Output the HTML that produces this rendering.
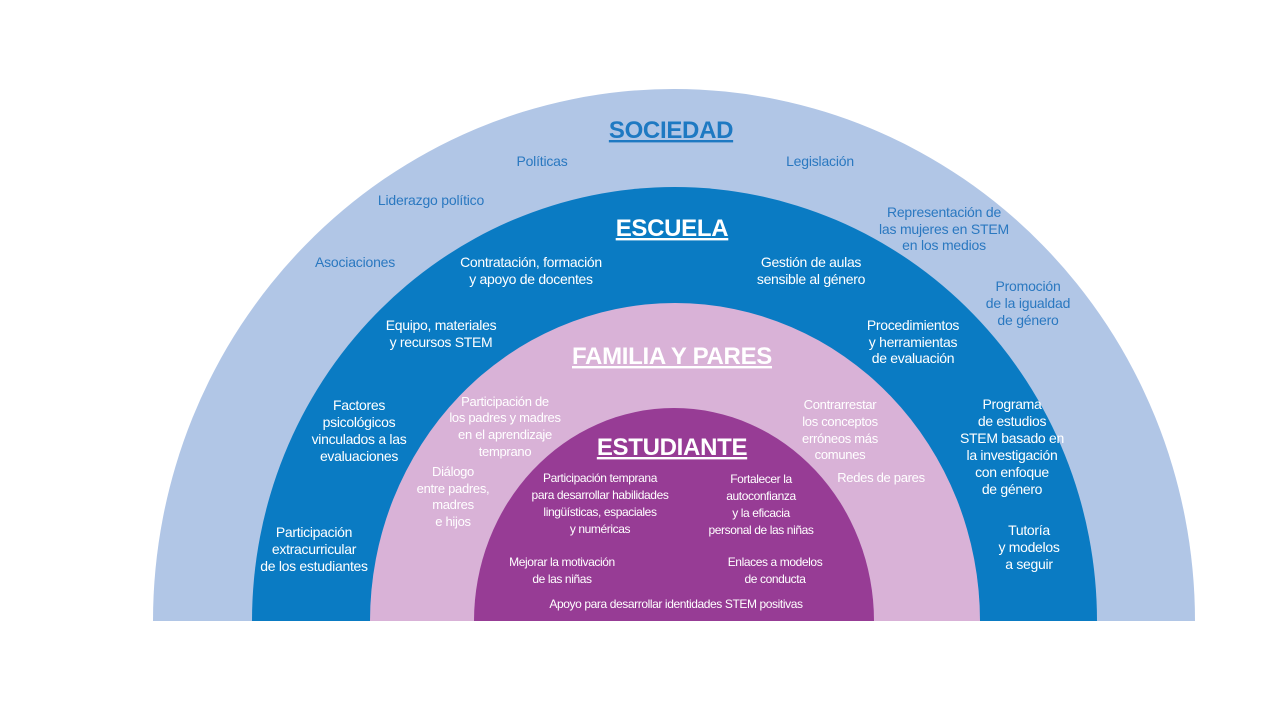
<!DOCTYPE html>
<html><head><meta charset="utf-8"><style>
html,body{margin:0;padding:0;background:#fff;width:1280px;height:720px;overflow:hidden}
svg{display:block}
svg text{font-family:"Liberation Sans",sans-serif;text-anchor:middle}
.s{fill:#2a78c0;font-size:14px;letter-spacing:-0.2px}
.w{fill:#fff;font-size:14px;letter-spacing:-0.3px}
.p{fill:#fff;font-size:13px;letter-spacing:-0.3px}
.e{fill:#fff;font-size:12px;letter-spacing:-0.4px}
.h{font-weight:bold;font-size:24px;text-decoration:underline;letter-spacing:-0.3px}
</style></head><body>
<svg width="1280" height="720" viewBox="0 0 1280 720" xmlns="http://www.w3.org/2000/svg">
<defs><clipPath id="c"><rect x="0" y="0" width="1280" height="621"/></clipPath></defs>
<g clip-path="url(#c)">
<ellipse cx="674" cy="621" rx="521" ry="532" fill="#b1c6e6"/>
<ellipse cx="674.5" cy="621" rx="422.5" ry="434" fill="#0a7bc3"/>
<ellipse cx="675" cy="621" rx="305" ry="318" fill="#d9b2d7"/>
<ellipse cx="674" cy="621" rx="200" ry="213" fill="#973c95"/>
</g>
<text x="671" y="138" class="h" style="fill:#1e79c2">SOCIEDAD</text>
<text class="s" x="542" y="166">Políticas</text>
<text class="s" x="820" y="166">Legislación</text>
<text class="s" x="431" y="205">Liderazgo político</text>
<text class="s" x="355" y="267">Asociaciones</text>
<text class="s" x="944" y="217">Representación de</text>
<text class="s" x="944" y="234">las mujeres en STEM</text>
<text class="s" x="944" y="250">en los medios</text>
<text class="s" x="1028" y="291">Promoción</text>
<text class="s" x="1028" y="308">de la igualdad</text>
<text class="s" x="1028" y="325">de género</text>

<text x="672" y="236" class="h" style="fill:#fff">ESCUELA</text>
<text class="w" x="531" y="267">Contratación, formación</text>
<text class="w" x="531" y="284">y apoyo de docentes</text>
<text class="w" x="811" y="267">Gestión de aulas</text>
<text class="w" x="811" y="284">sensible al género</text>
<text class="w" x="441" y="330">Equipo, materiales</text>
<text class="w" x="441" y="347">y recursos STEM</text>
<text class="w" x="913" y="330">Procedimientos</text>
<text class="w" x="913" y="347">y herramientas</text>
<text class="w" x="913" y="363">de evaluación</text>
<text class="w" x="359" y="410">Factores</text>
<text class="w" x="359" y="427">psicológicos</text>
<text class="w" x="359" y="444">vinculados a las</text>
<text class="w" x="359" y="461">evaluaciones</text>
<text class="w" x="1012" y="409">Programa</text>
<text class="w" x="1012" y="426">de estudios</text>
<text class="w" x="1012" y="443">STEM basado en</text>
<text class="w" x="1012" y="460">la investigación</text>
<text class="w" x="1012" y="477">con enfoque</text>
<text class="w" x="1012" y="494">de género</text>
<text class="w" x="314" y="537">Participación</text>
<text class="w" x="314" y="554">extracurricular</text>
<text class="w" x="314" y="571">de los estudiantes</text>
<text class="w" x="1029" y="535">Tutoría</text>
<text class="w" x="1029" y="552">y modelos</text>
<text class="w" x="1029" y="569">a seguir</text>

<text x="672" y="364" class="h" style="fill:#fff">FAMILIA Y PARES</text>
<text class="p" x="505" y="406">Participación de</text>
<text class="p" x="505" y="422">los padres y madres</text>
<text class="p" x="505" y="439">en el aprendizaje</text>
<text class="p" x="505" y="456">temprano</text>
<text class="p" x="840" y="409">Contrarrestar</text>
<text class="p" x="840" y="426">los conceptos</text>
<text class="p" x="840" y="443">erróneos más</text>
<text class="p" x="840" y="459">comunes</text>
<text class="p" x="453" y="476">Diálogo</text>
<text class="p" x="453" y="493">entre padres,</text>
<text class="p" x="453" y="509">madres</text>
<text class="p" x="453" y="526">e hijos</text>
<text class="p" x="881" y="482">Redes de pares</text>

<text x="672" y="455" class="h" style="fill:#fff">ESTUDIANTE</text>
<text class="e" x="600" y="482">Participación temprana</text>
<text class="e" x="600" y="499">para desarrollar habilidades</text>
<text class="e" x="600" y="516">lingüísticas, espaciales</text>
<text class="e" x="600" y="533">y numéricas</text>
<text class="e" x="761" y="483">Fortalecer la</text>
<text class="e" x="761" y="500">autoconfianza</text>
<text class="e" x="761" y="517">y la eficacia</text>
<text class="e" x="761" y="534">personal de las niñas</text>
<text class="e" x="562" y="566">Mejorar la motivación</text>
<text class="e" x="562" y="583">de las niñas</text>
<text class="e" x="775" y="566">Enlaces a modelos</text>
<text class="e" x="775" y="583">de conducta</text>
<text class="e" x="676" y="608">Apoyo para desarrollar identidades STEM positivas</text>
</svg>
</body></html>
